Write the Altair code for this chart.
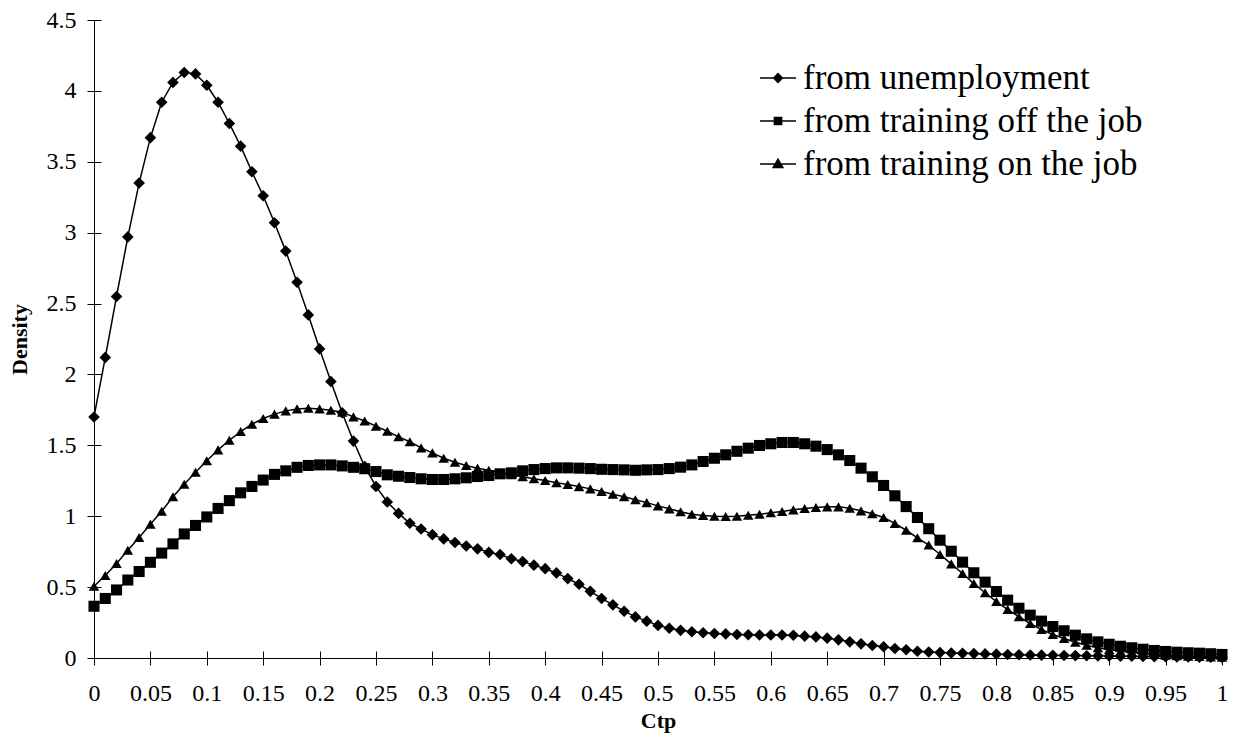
import altair as alt
import pandas as pd

SERIES = ["from unemployment", "from training off the job", "from training on the job"]

ctp = [round(i * 0.01, 2) for i in range(101)]

unemployment = [
    1.70, 2.12, 2.55, 2.97, 3.35, 3.67, 3.92, 4.06, 4.13, 4.12,
    4.04, 3.92, 3.77, 3.61, 3.43, 3.26, 3.07, 2.87, 2.65, 2.42,
    2.18, 1.95, 1.73, 1.53, 1.35, 1.21, 1.10, 1.02, 0.95, 0.91,
    0.87, 0.84, 0.815, 0.79, 0.77, 0.745, 0.73, 0.70, 0.68, 0.655,
    0.63, 0.60, 0.56, 0.52, 0.47, 0.42, 0.375, 0.33, 0.29, 0.26,
    0.23, 0.21, 0.195, 0.185, 0.178, 0.173, 0.17, 0.166, 0.164, 0.162,
    0.162, 0.162, 0.16, 0.154, 0.149, 0.14, 0.128, 0.114, 0.10, 0.088,
    0.079, 0.067, 0.058, 0.048, 0.042, 0.038, 0.035, 0.033, 0.031, 0.029,
    0.027, 0.025, 0.023, 0.021, 0.020, 0.019, 0.018, 0.017, 0.016, 0.015,
    0.014, 0.013, 0.012, 0.011, 0.010, 0.009, 0.008, 0.007, 0.006, 0.005,
    0.004,
]

off_the_job = [
    0.365, 0.42, 0.48, 0.55, 0.61, 0.675, 0.74, 0.805, 0.875, 0.935,
    0.995, 1.055, 1.11, 1.165, 1.21, 1.255, 1.295, 1.32, 1.345, 1.358,
    1.362, 1.362, 1.355, 1.345, 1.335, 1.315, 1.292, 1.282, 1.273, 1.264,
    1.259, 1.259, 1.264, 1.271, 1.28, 1.287, 1.299, 1.306, 1.32, 1.329,
    1.336, 1.341, 1.341, 1.339, 1.336, 1.331, 1.329, 1.327, 1.324, 1.327,
    1.329, 1.336, 1.346, 1.362, 1.386, 1.409, 1.433, 1.458, 1.48, 1.499,
    1.511, 1.52, 1.52, 1.511, 1.494, 1.47, 1.433, 1.393, 1.339, 1.278,
    1.217, 1.144, 1.068, 0.991, 0.912, 0.831, 0.753, 0.676, 0.601, 0.535,
    0.469, 0.408, 0.351, 0.302, 0.26, 0.222, 0.192, 0.161, 0.135, 0.114,
    0.097, 0.083, 0.072, 0.062, 0.053, 0.046, 0.041, 0.037, 0.034, 0.030,
    0.025,
]

on_the_job = [
    0.506, 0.582, 0.666, 0.76, 0.85, 0.944, 1.035, 1.137, 1.226, 1.31,
    1.391, 1.468, 1.536, 1.597, 1.649, 1.689, 1.72, 1.743, 1.757, 1.762,
    1.757, 1.748, 1.733, 1.701, 1.672, 1.635, 1.599, 1.56, 1.525, 1.482,
    1.447, 1.409, 1.381, 1.358, 1.339, 1.324, 1.306, 1.292, 1.278, 1.264,
    1.252, 1.236, 1.224, 1.209, 1.193, 1.174, 1.155, 1.137, 1.116, 1.096,
    1.073, 1.052, 1.031, 1.014, 1.005, 1.0, 0.998, 1.0, 1.007, 1.014,
    1.024, 1.033, 1.045, 1.054, 1.061, 1.066, 1.066, 1.056, 1.038, 1.017,
    0.991, 0.949, 0.901, 0.848, 0.797, 0.73, 0.664, 0.596, 0.525, 0.46,
    0.398, 0.342, 0.291, 0.243, 0.201, 0.166, 0.138, 0.111, 0.09, 0.072,
    0.06, 0.048, 0.041, 0.032, 0.025, 0.02, 0.016, 0.013, 0.011, 0.008,
    0.006,
]

x_ticks = [0, 0.05, 0.1, 0.15, 0.2, 0.25, 0.3, 0.35, 0.4, 0.45, 0.5,
           0.55, 0.6, 0.65, 0.7, 0.75, 0.8, 0.85, 0.9, 0.95, 1]
y_ticks = [0, 0.5, 1, 1.5, 2, 2.5, 3, 3.5, 4, 4.5]

rows = []
for name, vals in zip(SERIES, [unemployment, off_the_job, on_the_job]):
    for xv, yv in zip(ctp, vals):
        rows.append({"series": name, "Ctp": xv, "Density": yv})
df = pd.DataFrame(rows)
df_leg = df[df["Ctp"] == 0]

FONT = "Liberation Serif"
W, H = 1128, 638

xscale = alt.Scale(domain=[0, 1], nice=False, zero=False)
yscale = alt.Scale(domain=[0, 4.5], nice=False)

lines = alt.Chart(df).mark_line(color="black", strokeWidth=1.5).encode(
    x=alt.X("Ctp:Q", scale=xscale,
            axis=alt.Axis(values=x_ticks, format="~g", labelOverlap=False,
                          labelFlush=False, tickSize=7, labelPadding=16,
                          title="Ctp", titlePadding=5, grid=False)),
    y=alt.Y("Density:Q", scale=yscale,
            axis=alt.Axis(values=y_ticks, format="~g", labelOverlap=False,
                          labelFlush=False, tickSize=7, labelPadding=11,
                          title="Density", titlePadding=15, grid=False)),
    detail="series:N",
)

points = alt.Chart(df).mark_point(filled=True, color="black", opacity=1).encode(
    x=alt.X("Ctp:Q", scale=xscale,
            axis=alt.Axis(orient="bottom", offset=-7, domain=False, labels=False,
                          title=None, values=x_ticks, tickSize=7, grid=False)),
    y=alt.Y("Density:Q", scale=yscale,
            axis=alt.Axis(orient="left", offset=-7, domain=False, labels=False,
                          title=None, values=y_ticks, tickSize=7, grid=False)),
    shape=alt.Shape("series:N", sort=SERIES,
                    scale=alt.Scale(domain=SERIES, range=["diamond", "square", "triangle-up"]),
                    legend=None),
    size=alt.Size("series:N", sort=SERIES,
                  scale=alt.Scale(domain=SERIES, range=[135, 110, 125]),
                  legend=None),
)

legend_paths = [
    "M-1,0L1,0M-0.24,0L0,-0.24L0.24,0L0,0.24Z",
    "M-1,0L1,0M-0.2,-0.2L0.2,-0.2L0.2,0.2L-0.2,0.2Z",
    "M-1,0L1,0M-0.27,0.2L0.27,0.2L0,-0.26Z",
]

legend_layer = alt.Chart(df_leg).mark_point(
    filled=True, fill="black", stroke="black", strokeWidth=1.5, opacity=0
).encode(
    x=alt.X("Ctp:Q", scale=xscale, axis=None),
    y=alt.Y("Density:Q", scale=yscale, axis=None),
    shape=alt.Shape("series:N", sort=SERIES,
                    scale=alt.Scale(domain=SERIES, range=legend_paths),
                    legend=alt.Legend(title=None, orient="none", legendX=665, legendY=39,
                                      labelFont=FONT, labelFontSize=35,
                                      labelColor="black", labelLimit=1000, symbolSize=1296,
                                      symbolStrokeWidth=1.5, symbolOpacity=1,
                                      rowPadding=6, labelOffset=6)),
)

chart = alt.layer(lines, points, legend_layer).resolve_scale(
    shape="independent", size="independent"
).resolve_axis(
    x="independent", y="independent"
).properties(
    width=W, height=H,
    autosize=alt.AutoSizeParams(type="none"),
    padding={"left": 86, "top": 12, "right": 9, "bottom": 85},
).configure(
    font=FONT,
).configure_view(stroke=None).configure_axis(
    labelFont=FONT, labelFontSize=24, labelColor="black",
    titleFont=FONT, titleFontSize=22, titleFontWeight="bold", titleColor="black",
    domainColor="black", tickColor="black", domainWidth=1, tickWidth=1,
).configure_legend(
    labelFont=FONT, labelFontSize=35, labelColor="black",
)

chart.save("out.html", embed_options={"renderer": "svg", "actions": False})
